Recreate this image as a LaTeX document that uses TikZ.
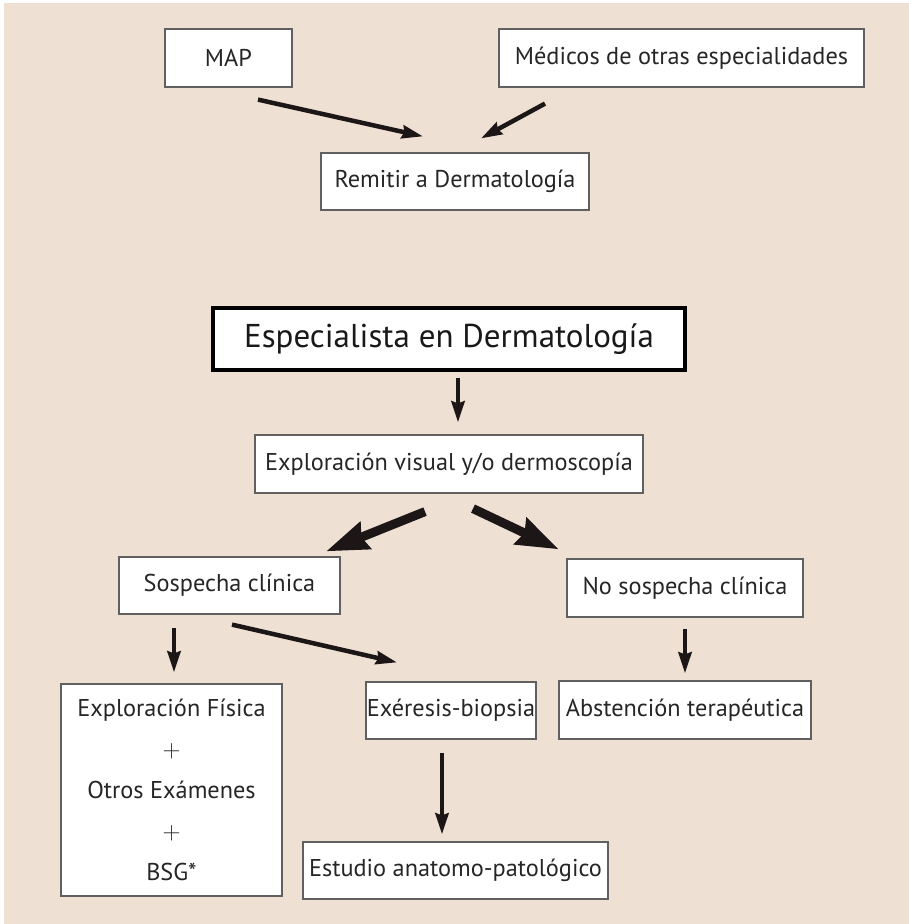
\documentclass[tikz,border=0pt]{standalone}
\usepackage{fontspec}
\setmainfont{PT Sans}
\usetikzlibrary{arrows.meta,calc}
\definecolor{colBG}{RGB}{239,224,212}
\definecolor{colBox}{RGB}{96,96,96}
\definecolor{colArr}{RGB}{28,22,22}
\newcommand{\txtsize}{\fontsize{24.3}{29}\selectfont}

\begin{document}
\begin{tikzpicture}[x=1pt, y=-1pt,
    every node/.style={font=\txtsize, text=black!85},
    box/.style={draw=colBox, line width=1.2pt, fill=white, inner sep=0pt},
    arr/.style={-{Stealth[length=21pt,width=13pt,inset=2pt]}, line width=4.5pt, colArr},
    bigarr/.style={-{Stealth[length=42pt,width=28pt,inset=4pt]}, line width=9pt, colArr}]
  % page and background
  \useasboundingbox (0,0) rectangle (909,924);
  \fill[white] (0,0) rectangle (909,924);
  \fill[colBG] (4,3) rectangle (909,924);
  % referral boxes
  \node[box, minimum width=127pt, minimum height=58pt] (map) at (228.5,58) {MAP};
  \node[box, minimum width=365pt, minimum height=58pt] (med) at (681.5,58) {Médicos de otras especialidades};
  \node[box, minimum width=268pt, minimum height=57pt] (remit) at (455,181.5) {Remitir a Dermatología};
  % specialist
  \node[box, draw=black, line width=3.5pt, minimum width=472pt, minimum height=62pt,
        font=\fontsize{33}{38}\selectfont, text=black!90] (spec) at (449,339) {Especialista en Dermatología};
  \node[box, minimum width=388pt, minimum height=58pt] (explor) at (449,464) {Exploración visual y/o dermoscopía};
  % suspicion
  \node[box, minimum width=221pt, minimum height=57pt] (sosp) at (229.5,585.5) {Sospecha clínica};
  \node[box, minimum width=236pt, minimum height=58pt] (nosp) at (685,588) {No sospecha clínica};
  % outcomes
  \node[box, minimum width=221pt, minimum height=212pt, align=center,
        font=\fontsize{24.3}{41}\selectfont] (fisica) at (171.5,790)
        {Exploración Física\\$+$\\Otros Exámenes\\$+$\\BSG*};
  \node[box, minimum width=170pt, minimum height=57pt] (exer) at (451,710.5) {Exéresis-biopsia};
  \node[box, minimum width=252pt, minimum height=58pt] (abst) at (685,710) {Abstención terapéutica};
  \node[box, minimum width=305pt, minimum height=57pt] (estud) at (455.5,870.5) {Estudio anatomo-patológico};
  % arrows
  \draw[arr] ($(map.south)+(29.5,12)$) -- ($(remit.north)+(-32,-16)$);
  \draw[arr] ($(med.south)+(-136.5,16)$) -- ($(remit.north)+(26,-14)$);
  \draw[arr] ($(spec.south)+(9,6)$) -- ($(explor.north)+(9,-12)$);
  \draw[bigarr] ($(explor.south)+(-24,18)$) -- ($(sosp.north)+(96.5,-5)$);
  \draw[bigarr] ($(explor.south)+(24,15)$) -- ($(nosp.north)+(-126,-9)$);
  \draw[arr] ($(sosp.south)+(-55.5,13)$) -- ($(fisica.north)+(2.5,-11)$);
  \draw[arr] ($(sosp.south)+(2.5,10)$) -- ($(exer.north)+(-54,-19)$);
  \draw[arr] ($(nosp.south)+(0,11)$) -- ($(abst.north)+(0,-7)$);
  \draw[arr] ($(exer.south)+(-9,13)$) -- ($(estud.north)+(-13.5,-7)$);
\end{tikzpicture}
\end{document}
